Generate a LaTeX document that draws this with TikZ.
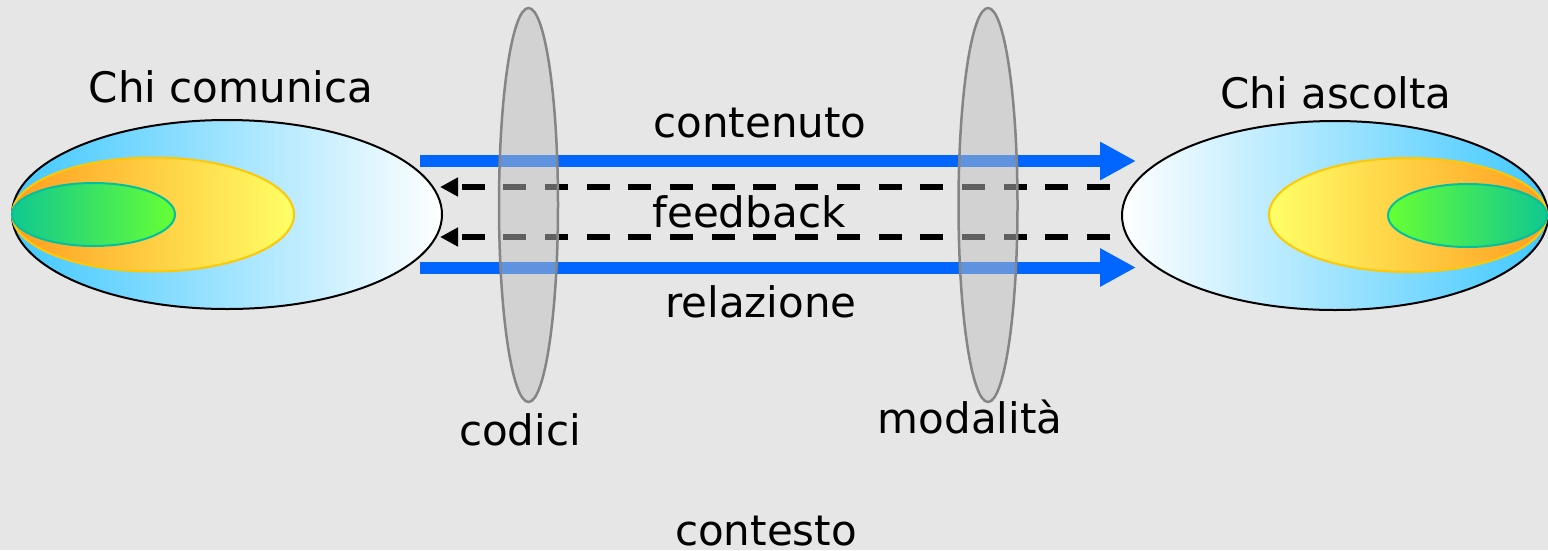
\documentclass[tikz,border=0pt]{standalone}
\usepackage{fontspec}
\setmainfont{DejaVu Sans}
\usetikzlibrary{shapes.geometric,arrows.meta}
\definecolor{bgray}{HTML}{E6E6E6}
\definecolor{flowblue}{HTML}{0066FF}
\definecolor{skyblue}{HTML}{40C8FF}
\definecolor{warmorange}{HTML}{FF9E20}
\definecolor{lightyellow}{HTML}{FFFF66}
\definecolor{goldline}{HTML}{FFC800}
\definecolor{tealgreen}{HTML}{10C890}
\definecolor{brightgreen}{HTML}{66FF33}
\definecolor{tealline}{HTML}{00C0A0}
\definecolor{lensfill}{HTML}{C0C0C0}
\definecolor{lensline}{HTML}{858585}
\tikzset{
  x=1pt, y=-1pt,
  shell/.style={ellipse, inner sep=0pt, draw=black, line width=2pt},
  band/.style={ellipse, inner sep=0pt, draw=goldline, line width=2pt},
  core/.style={ellipse, inner sep=0pt, draw=tealline, line width=2pt},
  lens/.style={ellipse, inner sep=0pt, minimum width=59pt, minimum height=394pt,
    fill=lensfill, fill opacity=0.5, draw=lensline, draw opacity=1, line width=2.5pt},
  flow/.style={draw=flowblue, line width=12pt, -{Triangle[length=36pt,width=36pt]}},
  back/.style={draw=black, line width=6pt, dash pattern=on 23pt off 18.7pt,
    -{Triangle[length=18pt,width=18pt]}},
  lbl/.style={anchor=base, inner sep=0pt, font=\fontsize{42}{50}\selectfont},
}
\begin{document}
\begin{tikzpicture}
\fill[bgray] (0,0) rectangle (1548,550);
\useasboundingbox (0,0) rectangle (1548,550);

% sender: nested ellipses, shaded towards the left edge
\node[shell, minimum width=430pt, minimum height=189pt, left color=skyblue, right color=white] (sendOuter) at (227,214.5) {};
\node[band, minimum width=282pt, minimum height=114pt, left color=warmorange, right color=lightyellow] (sendMid) at (153,214.5) {};
\node[core, minimum width=163pt, minimum height=63pt, left color=tealgreen, right color=brightgreen] (sendCore) at (93.5,214.5) {};

% receiver: mirrored nested ellipses
\node[shell, minimum width=426pt, minimum height=189pt, left color=white, right color=skyblue] (recvOuter) at (1335,215.5) {};
\node[band, minimum width=278pt, minimum height=114pt, left color=lightyellow, right color=warmorange] (recvMid) at (1408,215) {};
\node[core, minimum width=159pt, minimum height=63pt, left color=brightgreen, right color=tealgreen] (recvCore) at (1467.5,215.5) {};

% end points of the channels
\coordinate (cStart) at (420,161);
\coordinate (cEnd) at (1136,161);
\coordinate (rStart) at (420,267.5);
\coordinate (rEnd) at (1136,267.5);
\coordinate (f1Start) at (1110,187);
\coordinate (f1End) at (440,187);
\coordinate (f2Start) at (1110,237);
\coordinate (f2End) at (440,237);

\draw[flow] (cStart) -- (cEnd);
\draw[flow] (rStart) -- (rEnd);
\draw[back] (f1Start) -- (f1End);
\draw[back] (f2Start) -- (f2End);

% filters crossed by the channels
\node[lens] (codes) at (528.5,205) {};
\node[lens] (modes) at (988,205) {};

% labels
\node[lbl] (tSender) at (231,102) {Chi comunica};
\node[lbl] (tReceiver) at (1336,108) {Chi ascolta};
\node[lbl] (tContent) at (760,137) {contenuto};
\node[lbl] (tFeedback) at (749,227) {feedback};
\node[lbl] (tRelation) at (761,317) {relazione};
\node[lbl] (tCodes) at (520,445) {codici};
\node[lbl] (tModes) at (970,433) {modalità};
\node[lbl] (tContext) at (766,545) {contesto};
\end{tikzpicture}
\end{document}
